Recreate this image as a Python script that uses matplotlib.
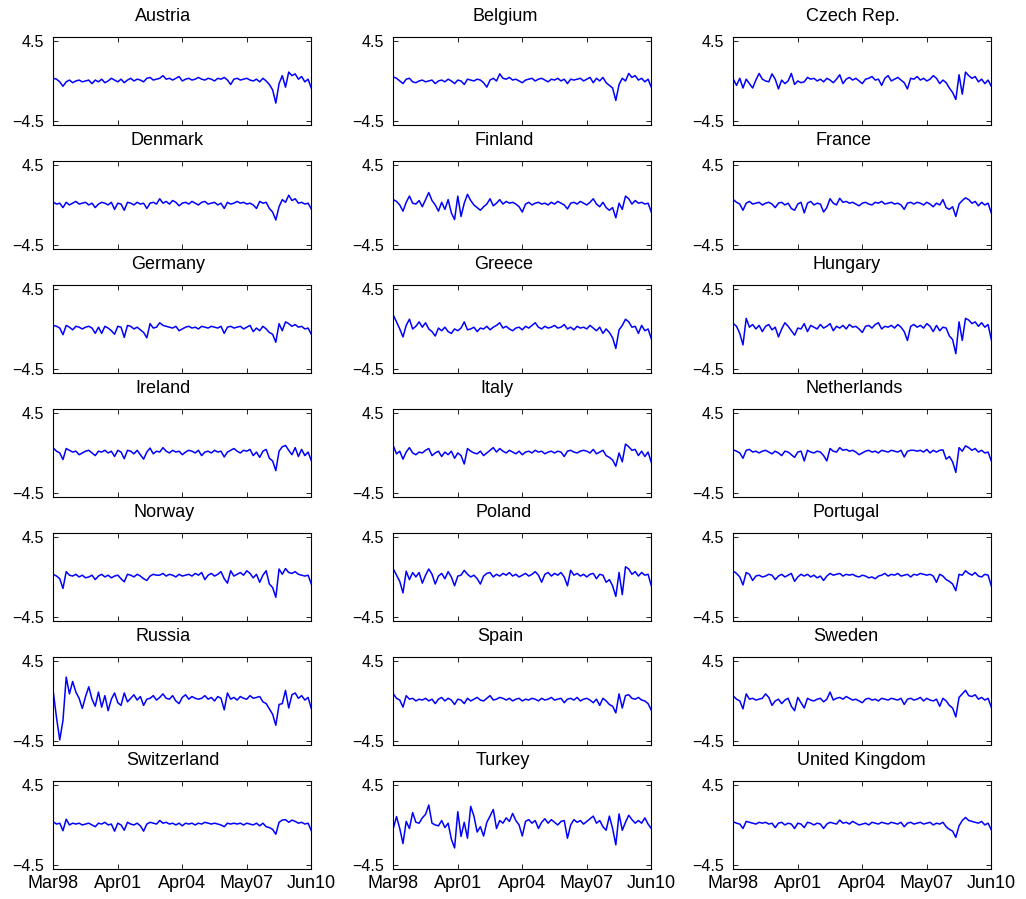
import numpy as np
import matplotlib
matplotlib.use("Agg")
import matplotlib.pyplot as plt

plt.rcParams['font.family'] = ['Liberation Sans', 'DejaVu Sans']

# countries in panel order (row by row, 3 columns)
countries = ['Austria', 'Belgium', 'Czech Rep.',
             'Denmark', 'Finland', 'France',
             'Germany', 'Greece', 'Hungary',
             'Ireland', 'Italy', 'Netherlands',
             'Norway', 'Poland', 'Portugal',
             'Russia', 'Spain', 'Sweden',
             'Switzerland', 'Turkey', 'United Kingdom']

date_labels = ['Mar98', 'Apr01', 'Apr04', 'May07', 'Jun10']
n_weeks = 640  # weekly observations Mar98 - Jun10

austria = [0.3, 0.2, -0.1, -0.6, -0.1, 0.1, -0.2, 0.0, 0.1, -0.1,
           0.0, 0.1, -0.3, 0.1, -0.1, 0.2, -0.2, 0.0, 0.3, 0.1,
           -0.1, 0.2, -0.2, 0.1, 0.3, 0.0, 0.2, 0.1, -0.1, 0.3,
           0.4, 0.1, 0.2, 0.3, 0.6, 0.2, 0.3, 0.1, 0.3, 0.5,
           0.0, 0.2, 0.3, 0.1, 0.2, 0.4, 0.2, 0.1, 0.3, 0.2,
           0.0, 0.3, 0.2, 0.4, 0.1, -0.4, 0.2, 0.3, 0.1, 0.2,
           0.3, 0.1, 0.0, 0.2, -0.1, 0.3, 0.0, -0.4, -1.0, -2.5,
           -0.3, 0.6, -0.7, 1.0, 0.6, 0.8, 0.2, 0.5, -0.1, 0.2,
           -0.8]
belgium = [0.45, 0.3, 0.0, -0.3, 0.2, 0.3, -0.1, -0.2, 0.0, 0.1,
           -0.1, 0.0, 0.1, -0.3, 0.0, 0.1, -0.1, 0.2, 0.0, -0.3,
           0.1, 0.0, -0.4, 0.2, 0.1, 0.0, 0.2, 0.1, -0.2, -0.7,
           0.1, 0.3, 0.0, 0.8, 0.3, 0.2, 0.4, 0.1, 0.2, 0.0,
           -0.2, 0.1, 0.2, 0.3, 0.0, 0.2, 0.3, 0.1, -0.1, 0.2,
           0.1, 0.3, 0.0, 0.2, -0.3, 0.2, 0.1, 0.2, 0.3, 0.0,
           0.2, 0.4, -0.2, 0.3, 0.0, 0.4, -0.2, -0.5, -0.8, -2.2,
           -0.4, 0.3, 0.0, 0.85, 0.4, 0.6, 0.1, 0.3, -0.1, 0.2,
           -0.7]
czech = [0.2, -0.5, 0.3, -0.8, 0.2, -0.3, -0.8, 0.1, 0.85, 0.2,
         0.0, -0.1, 0.8, 0.2, -0.9, 0.1, -0.3, 0.0, 0.85, -0.4,
         0.0, -0.2, -0.1, 0.4, 0.2, 0.3, 0.0, 0.2, -0.1, 0.3,
         0.1, -0.2, 0.2, 0.7, -0.3, 0.2, 0.4, 0.1, 0.3, 0.0,
         -0.3, 0.2, 0.3, 0.5, 0.1, 0.2, -0.5, 0.3, 0.6, 0.0,
         0.2, 0.4, 0.1, -0.2, -0.9, 0.3, 0.2, 0.5, 0.1, 0.3,
         0.0, 0.2, 0.6, 0.3, -0.3, 0.1, -0.2, -0.8, -1.3, -2.1,
         0.7, -1.5, 1.0, 0.6, 0.3, 0.5, -0.1, 0.2, -0.3, 0.1,
         -0.6]
denmark = [0.3, 0.1, 0.2, -0.3, 0.3, 0.0, 0.2, 0.4, 0.1, 0.2,
           0.3, 0.0, 0.2, -0.3, 0.1, 0.3, 0.2, 0.0, 0.3, -0.5,
           0.2, 0.1, -0.6, 0.3, 0.2, 0.0, 0.3, 0.1, 0.2, -0.4,
           0.2, 0.3, 0.1, 0.7, 0.2, 0.4, 0.1, 0.5, 0.3, -0.1,
           0.2, 0.3, 0.1, 0.4, 0.2, 0.0, 0.3, 0.4, 0.1, 0.2,
           0.3, 0.0, 0.2, -0.4, 0.3, 0.1, 0.2, 0.4, 0.2, 0.3,
           0.1, 0.2, 0.0, -0.4, 0.4, 0.2, 0.3, -0.4, -0.8, -1.7,
           -0.2, 0.6, 0.3, 1.1, 0.5, 0.7, 0.2, 0.3, 0.1, 0.2,
           -0.45]
finland = [0.6, 0.4, 0.0, -0.7, 0.3, 1.0, 0.2, 0.1, 0.5, -0.2,
           0.6, 1.4, 0.5, 0.0, -0.7, 0.3, -0.5, 0.6, -0.9, -1.65,
           1.0, -1.3, 0.2, 1.2, 0.5, 0.0, -0.3, -0.6, -0.2, 0.1,
           0.7, -0.1, 0.2, 0.6, 0.1, 0.4, 0.2, 0.3, 0.1, -0.2,
           -0.8, 0.1, 0.3, 0.0, 0.2, 0.3, 0.1, 0.2, 0.0, 0.3,
           0.1, 0.4, 0.2, 0.0, -0.45, 0.2, 0.3, 0.1, 0.4, 0.2,
           0.0, 0.3, 0.7, 0.1, -0.2, 0.3, -0.3, -0.6, -0.3, -1.45,
           0.2, -0.5, 1.0, 0.7, 0.1, 0.5, 0.2, 0.3, 0.1, 0.2,
           -0.8]
france = [0.6, 0.3, 0.1, -0.6, 0.2, 0.4, 0.1, 0.2, 0.3, 0.0,
          0.2, 0.3, 0.1, -0.3, 0.2, 0.3, 0.0, 0.2, -0.4, -0.6,
          0.1, 0.3, -0.9, 0.2, 0.4, 0.0, 0.2, 0.1, -0.8, -0.3,
          0.7, 0.2, 0.0, 0.75, 0.3, 0.4, 0.2, 0.3, 0.1, -0.1,
          0.2, 0.3, 0.1, 0.0, 0.3, 0.2, 0.4, 0.1, 0.2, 0.3,
          0.1, 0.2, 0.0, -0.5, 0.2, 0.3, 0.1, 0.3, 0.2, 0.0,
          0.3, 0.1, -0.2, 0.2, 0.0, 0.6, -0.3, -0.5, -0.2, -1.3,
          0.1, 0.5, 0.8, 0.6, 0.2, 0.4, -0.1, 0.3, 0.0, 0.2,
          -0.9]
germany = [0.4, 0.3, 0.1, -0.65, 0.4, 0.2, -0.1, 0.3, 0.2, 0.0,
           0.2, 0.3, 0.1, -0.5, 0.2, -0.5, 0.3, 0.1, -0.2, -0.6,
           0.3, 0.2, -0.95, 0.4, 0.3, 0.0, 0.2, -0.1, -0.4, -1.0,
           0.6, 0.1, 0.2, 0.7, 0.4, 0.3, 0.2, 0.1, 0.3, -0.2,
           0.0, 0.2, 0.3, 0.1, 0.2, 0.0, 0.3, 0.2, 0.1, 0.3,
           0.2, 0.1, 0.3, -0.5, 0.2, 0.3, 0.1, 0.2, 0.3, 0.0,
           0.2, 0.4, -0.3, 0.1, -0.2, 0.3, 0.0, -0.4, -0.6, -1.5,
           0.6, -0.2, 0.8, 0.6, 0.3, 0.5, 0.2, 0.3, 0.0, 0.1,
           -0.6]
greece = [1.55, 0.8, 0.0, -0.9, 0.4, 1.1, 0.0, 0.3, 0.8, 0.2,
          0.7, 0.0, -0.3, -0.8, 0.1, -0.2, 0.2, -0.3, -0.5, 0.0,
          -0.2, 0.1, 0.8, -0.1, 0.0, 0.2, -0.3, 0.1, 0.0, 0.3,
          -0.1, 0.2, 0.4, 0.7, 0.1, 0.3, 0.0, -0.2, 0.1, 0.2,
          -0.1, 0.3, 0.1, 0.4, 0.7, 0.2, 0.0, 0.3, 0.1, 0.2,
          0.4, 0.1, 0.2, 0.5, 0.0, 0.2, -0.1, 0.3, 0.1, 0.2,
          0.0, 0.4, 0.1, -0.2, 0.2, -0.5, 0.0, -0.4, -1.0, -2.2,
          -0.1, 0.4, 1.1, 0.8, 0.2, 0.3, -0.5, 0.4, -0.2, 0.0,
          -1.1]
hungary = [0.6, 0.3, -0.5, -1.8, 1.2, 0.2, 0.5, 0.0, 0.4, -0.3,
           0.3, 0.5, -0.1, 0.2, -0.9, 0.0, 0.7, 0.3, -0.2, -0.7,
           0.1, 0.0, 0.6, -0.3, 0.4, 0.2, 0.0, 0.5, 0.1, 0.3,
           0.6, -0.2, 0.3, 0.1, 0.4, 0.0, 0.5, 0.2, 0.3, 0.0,
           -0.4, 0.3, 0.4, 0.1, 0.5, 0.7, 0.0, 0.3, 0.2, 0.4,
           0.1, 0.5, 0.2, -0.3, -1.3, 0.3, 0.5, 0.2, 0.4, 0.1,
           0.6, 0.3, -0.3, 0.4, -0.2, 0.2, 0.1, -0.8, -1.2, -2.8,
           0.8, -1.3, 1.2, 1.0, 0.6, 0.8, 0.3, 0.7, 0.2, 0.5,
           -1.2]
ireland = [0.55, 0.2, 0.0, -0.75, 0.5, 0.3, 0.1, 0.2, -0.2, 0.0,
           0.2, 0.3, 0.0, -0.3, 0.2, 0.1, 0.3, 0.0, 0.2, -0.4,
           0.3, 0.1, -0.65, 0.3, 0.2, -0.1, 0.3, -0.2, -0.7, 0.1,
           0.55, -0.1, 0.2, 0.1, 0.6, 0.2, 0.0, 0.3, 0.1, 0.2,
           -0.2, 0.1, 0.3, 0.2, 0.0, 0.3, -0.3, 0.1, 0.2, 0.0,
           0.3, 0.1, 0.2, -0.45, 0.1, 0.3, 0.5, 0.2, 0.0, 0.3,
           0.2, 0.4, -0.3, 0.1, -0.5, 0.2, 0.4, -0.6, -0.9, -2.0,
           0.2, 0.7, 0.85, 0.3, -0.2, 0.6, -0.4, 0.4, -0.3, 0.1,
           -0.85]
italy = [0.8, -0.1, 0.2, -0.7, 0.1, 0.6, 0.0, -0.2, 0.1, 0.0,
         0.3, 0.5, -0.3, 0.0, 0.2, -0.4, 0.1, -0.2, 0.2, -0.6,
         0.0, -0.3, -1.25, 0.5, 0.2, 0.0, -0.1, 0.2, -0.3, 0.0,
         0.3, 0.6, 0.1, 0.5, 0.2, 0.0, 0.3, 0.1, -0.1, 0.2,
         -0.2, 0.1, 0.2, 0.0, 0.3, 0.1, 0.2, -0.1, 0.1, 0.2,
         0.0, 0.2, 0.1, -0.4, 0.2, 0.3, 0.1, 0.0, 0.2, 0.3,
         0.2, 0.0, 0.4, -0.1, 0.1, 0.3, -0.3, -0.5, -0.8, -1.5,
         0.0, -1.0, 1.0, 0.7, 0.3, 0.4, -0.3, 0.2, -0.4, 0.1,
         -1.05]
netherlands = [0.35, 0.2, 0.0, -0.6, 0.3, 0.4, 0.1, 0.2, 0.0, 0.2,
               0.3, 0.1, -0.1, 0.2, 0.0, -0.3, 0.2, 0.1, -0.2, -0.5,
               0.1, 0.2, -0.9, 0.3, 0.1, 0.0, 0.2, 0.1, -0.3, -0.9,
               0.5, 0.2, 0.1, 0.6, 0.3, 0.4, 0.2, 0.3, 0.1, -0.2,
               0.0, 0.2, 0.3, 0.1, 0.2, 0.0, 0.3, 0.2, 0.1, 0.3,
               0.2, 0.1, 0.3, -0.45, 0.2, 0.3, 0.3, 0.2, 0.3, 0.1,
               0.4, 0.0, 0.3, 0.1, 0.3, 0.35, -0.7, -0.4, -1.0, -2.2,
               0.6, 0.2, 0.8, 0.6, 0.3, 0.5, 0.1, 0.3, 0.0, 0.1,
               -0.9]
norway = [0.3, 0.1, -0.2, -1.3, 0.6, 0.2, 0.1, 0.3, 0.0, 0.2,
          -0.1, 0.0, 0.2, -0.3, 0.1, 0.3, 0.0, 0.2, -0.1, 0.1,
          0.2, -0.2, -0.55, 0.3, 0.2, 0.0, 0.3, 0.1, -0.2, -0.4,
          0.1, 0.3, 0.2, 0.2, 0.4, 0.1, 0.3, 0.2, 0.0, 0.3,
          0.1, 0.2, 0.3, 0.1, 0.4, 0.2, 0.5, -0.3, 0.2, 0.4,
          0.1, 0.3, 0.6, -0.2, -0.7, 0.7, 0.1, 0.3, 0.5, 0.2,
          0.7, 0.4, -0.1, 0.3, -0.6, 0.2, 0.7, -0.8, -1.2, -2.3,
          0.9, 0.3, 0.95, 0.5, 0.4, 0.6, 0.3, 0.2, 0.1, 0.2,
          -0.8]
poland = [0.9, 0.2, -0.5, -1.8, 0.65, -0.3, 0.5, 0.0, 0.5, -0.7,
          0.2, 0.9, 0.3, -0.8, 0.1, 0.4, -0.2, 0.6, 0.0, -1.0,
          0.1, 0.2, 0.75, 0.3, 0.0, 0.2, -0.2, -0.8, 0.1, 0.4,
          0.5, 0.0, 0.3, 0.1, 0.4, 0.2, 0.5, 0.1, 0.3, 0.0,
          0.2, 0.4, 0.1, 0.3, 0.6, 0.2, -0.6, 0.3, 0.5, 0.1,
          0.4, 0.2, 0.5, 0.0, -1.0, 0.75, 0.2, 0.4, 0.1, 0.3,
          0.0, 0.3, 0.4, -0.2, 0.3, 0.2, -0.6, -0.3, -1.0, -2.2,
          0.5, -2.0, 1.15, 0.9, 0.3, 0.6, 0.1, 0.5, 0.2, 0.3,
          -1.0]
portugal = [0.65, 0.4, 0.0, -0.9, 0.5, 0.3, -0.4, 0.1, 0.2, 0.0,
            0.1, 0.3, 0.2, -0.3, 0.1, 0.3, 0.0, 0.2, 0.4, -0.5,
            0.0, 0.3, 0.1, 0.3, 0.0, 0.2, -0.1, 0.1, -0.4, 0.1,
            0.4, 0.2, 0.3, 0.4, 0.1, 0.3, 0.2, 0.3, 0.1, 0.0,
            0.2, 0.1, -0.1, 0.0, -0.2, 0.1, 0.2, 0.4, 0.1, 0.3,
            0.2, 0.4, 0.1, 0.2, 0.3, 0.0, 0.3, 0.2, 0.4, 0.3,
            0.2, 0.3, 0.1, -0.6, 0.3, 0.1, -0.3, -0.5, -0.8, -1.55,
            0.3, 0.2, 0.7, 0.4, 0.2, 0.5, 0.1, 0.0, 0.3, 0.2,
            -1.0]
russia = [1.0, -1.9, -4.4, -2.2, 2.7, 0.8, 2.2, 1.0, 0.3, -0.85,
          0.5, 1.6, 0.2, -0.6, 1.0, -0.7, 0.6, -1.1, 0.2, 0.9,
          -0.2, -0.5, 0.9, -0.1, 0.3, 0.7, 0.1, 0.5, -0.5, 0.2,
          0.3, 0.6, 0.1, 0.4, 0.8, 0.3, 0.2, 0.6, 0.0, -0.3,
          0.4, 0.7, 0.2, 0.5, 0.3, 0.2, 0.3, 0.6, 0.2, 0.4,
          0.0, 0.5, 0.3, -1.0, 0.9, 0.2, 0.4, 0.1, 0.5, 0.3,
          0.2, 0.6, 0.3, 0.4, 0.5, -0.1, -0.3, -0.9, -1.5, -2.75,
          -0.4, -0.3, 1.2, -0.8, 0.7, 0.9, 0.3, 0.6, 0.1, 0.4,
          -0.85]
spain = [0.8, 0.3, 0.1, -0.7, 0.6, 0.2, 0.3, 0.0, 0.2, 0.1,
         0.3, 0.0, 0.2, -0.3, 0.2, 0.4, 0.0, 0.3, 0.1, -0.4,
         0.2, 0.1, -0.3, 0.3, 0.0, 0.2, 0.4, 0.1, 0.0, 0.3,
         0.6, 0.1, 0.2, 0.4, 0.3, 0.1, 0.3, 0.0, 0.2, 0.3,
         0.0, 0.2, 0.1, 0.3, 0.2, 0.0, 0.3, 0.1, 0.2, 0.4,
         0.1, 0.2, 0.3, -0.2, 0.2, 0.3, 0.1, 0.4, 0.0, 0.2,
         0.3, 0.1, -0.2, 0.2, -0.5, 0.3, 0.0, -0.4, -0.6, -1.35,
         0.8, -0.8, 0.6, 0.7, 0.3, 0.2, 0.4, 0.1, 0.0, -0.3,
         -1.05]
sweden = [0.55, 0.2, 0.0, -0.9, 0.8, 0.2, 0.3, 0.1, 0.2, 0.3,
          0.8, 0.4, -0.5, 0.0, 0.2, -0.3, 0.1, 0.3, -0.6, -1.1,
          0.4, -0.2, -0.8, 0.3, 0.1, 0.0, 0.2, 0.3, -0.1, 0.2,
          1.0, 0.1, 0.3, 0.4, 0.2, 0.5, 0.3, 0.1, 0.2, 0.0,
          -0.2, 0.2, 0.3, 0.1, 0.2, 0.0, 0.3, 0.2, 0.1, 0.3,
          0.2, 0.1, 0.3, -0.4, 0.2, 0.3, 0.1, 0.2, 0.4, 0.0,
          0.3, 0.1, 0.0, 0.2, -0.6, 0.3, 0.0, -0.5, -0.8, -1.8,
          0.4, 0.8, 1.2, 0.6, 0.5, 0.7, 0.2, 0.4, 0.1, 0.3,
          -0.7]
switzerland = [0.35, 0.1, 0.2, -0.65, 0.65, 0.0, 0.2, 0.1, 0.2, 0.0,
               0.1, 0.2, 0.0, -0.2, 0.2, 0.1, 0.3, 0.0, 0.1, -0.7,
               0.2, 0.0, -0.6, 0.3, 0.1, 0.0, 0.2, -0.1, -0.7, 0.1,
               0.3, 0.2, 0.1, 0.5, 0.2, 0.3, 0.1, 0.2, 0.0, 0.2,
               -0.1, 0.2, 0.1, 0.2, 0.0, 0.2, 0.1, 0.3, 0.2, 0.1,
               0.2, 0.1, 0.0, -0.2, 0.2, 0.1, 0.2, 0.1, 0.2, 0.0,
               0.2, 0.1, 0.0, 0.2, -0.1, 0.2, -0.2, -0.3, -0.5, -1.05,
               0.3, 0.55, 0.6, 0.3, 0.55, 0.4, 0.2, 0.3, 0.1, 0.2,
               -0.65]
turkey = [-0.4, 0.95, -0.4, -2.1, 0.4, -0.4, 1.4, 0.3, 0.2, 0.8,
          1.2, 2.25, 0.2, 0.0, -0.1, 0.5, -0.3, 0.2, -1.6, -2.6,
          1.5, -1.3, 0.3, -1.5, 2.1, 1.0, -0.8, -0.2, -1.25, 0.3,
          1.0, 1.75, -0.4, 0.5, 0.2, 0.8, 0.4, 1.3, 0.5, 0.0,
          -1.25, 0.4, 0.6, 0.2, 0.5, -0.4, 0.3, 0.7, 0.2, 0.6,
          0.3, 0.0, 0.4, 0.5, -1.5, 0.0, 0.6, 0.3, 0.5, 0.1,
          0.4, 0.7, 1.0, 0.2, 0.5, -0.2, -0.6, 1.0, -0.4, -2.25,
          1.25, -0.6, 0.3, 1.1, 0.6, 0.2, 0.5, 0.2, 0.8, 0.1,
          -0.4]
uk = [0.35, 0.2, 0.1, -0.4, 0.4, 0.3, 0.2, 0.1, 0.3, 0.2,
      0.3, 0.1, 0.2, -0.3, 0.2, 0.3, 0.0, 0.2, 0.1, -0.4,
      0.2, 0.1, -0.3, 0.3, 0.2, 0.0, 0.2, 0.1, -0.4, 0.1,
      0.3, 0.2, 0.1, 0.55, 0.2, 0.3, 0.1, 0.4, 0.2, 0.0,
      0.1, 0.2, 0.0, 0.3, 0.2, 0.1, 0.3, 0.2, 0.1, 0.3,
      0.2, 0.1, 0.3, -0.2, 0.2, 0.3, 0.1, 0.2, 0.3, 0.1,
      0.2, 0.3, 0.0, 0.2, 0.1, 0.3, -0.2, -0.5, -0.7, -1.4,
      -0.1, 0.5, 0.85, 0.5, 0.4, 0.3, 0.2, 0.4, 0.0, 0.2,
      -0.55]

series = [austria, belgium, czech,
          denmark, finland, france,
          germany, greece, hungary,
          ireland, italy, netherlands,
          norway, poland, portugal,
          russia, spain, sweden,
          switzerland, turkey, uk]

W, H = 1026, 899
fig = plt.figure(figsize=(W / 100, H / 100), dpi=100)

# panel geometry in pixels
col_left = [53.3, 393.3, 733.3]
ax_w, ax_h = 258.0, 88.5
row_top0, row_step = 36.7, 124.0

axes = []
for i, (name, vals) in enumerate(zip(countries, series)):
    r, c = divmod(i, 3)
    top = row_top0 + r * row_step
    ax = fig.add_axes([col_left[c] / W, (H - top - ax_h) / H, ax_w / W, ax_h / H])
    x = np.linspace(0, n_weeks, len(vals))
    ax.plot(x, vals, color='#0000ff', linewidth=1.1)
    ax.set_xlim(0, n_weeks)
    ax.set_ylim(-5, 5)
    ax.set_yticks([-4.5, 4.5])
    ax.set_xticks(np.linspace(0, n_weeks, len(date_labels)))
    ax.tick_params(direction='in', top=True, right=True, length=3.5, width=0.6,
                   labelsize=11.5, pad=7)
    if r == 6:
        ax.set_xticklabels(date_labels)
        ax.tick_params(axis='x', labelsize=13, pad=4)
    else:
        ax.set_xticklabels([])
    for s in ax.spines.values():
        s.set_linewidth(0.8)
    ax.set_title(name, fontsize=13, pad=11)
    axes.append(ax)

# titles in the reference sit a little left of centre, more so for short names
fig.canvas.draw()
for ax in axes:
    t = ax.title
    w = t.get_window_extent().width
    t.set_x((95.4 + 0.257 * w) / ax_w)

fig.savefig('out.png', dpi=100)
